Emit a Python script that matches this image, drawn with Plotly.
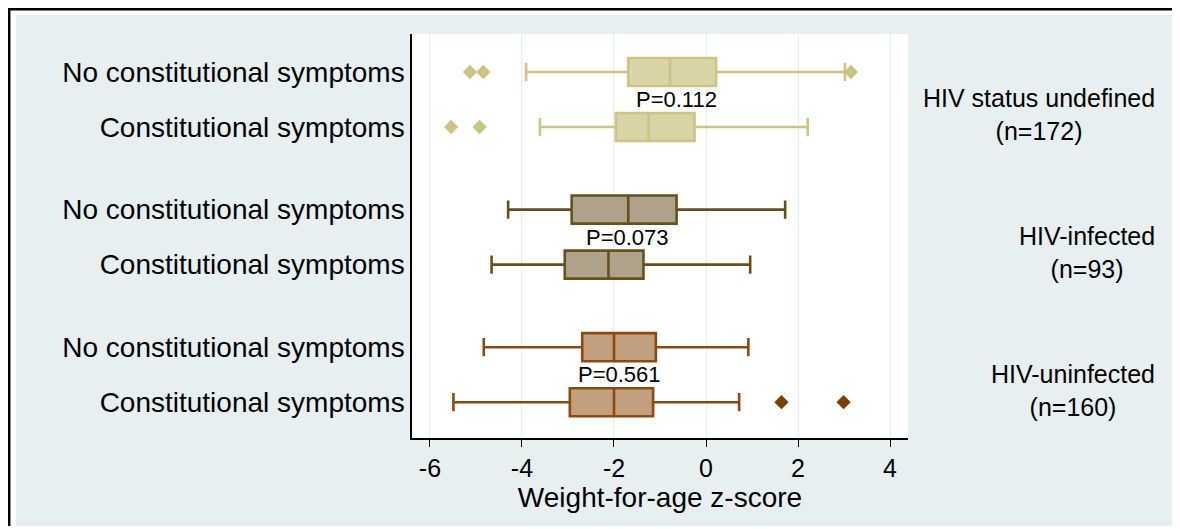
import plotly.graph_objects as go

# ---- data ----
groups = ["HIV status undefined", "HIV-infected", "HIV-uninfected"]
group_n = [172, 93, 160]
row_labels = ["No constitutional symptoms", "Constitutional symptoms"] * 3
row_group = [0, 0, 1, 1, 2, 2]

lowerfence = [-3.91, -3.61, -4.30, -4.66, -4.83, -5.49]
q1 = [-1.69, -1.96, -2.92, -3.07, -2.69, -2.96]
median = [-0.78, -1.25, -1.69, -2.12, -2.00, -2.00]
q3 = [0.22, -0.25, -0.64, -1.36, -1.09, -1.15]
upperfence = [3.02, 2.21, 1.72, 0.96, 0.92, 0.72]
outliers = [[-5.13, -4.84, 3.15], [-5.54, -4.92], [], [], [], [1.64, 2.99]]

p_values = ["P=0.112", "P=0.073", "P=0.561"]
p_x = [-0.64, -1.70, -1.87]

x_ticks = [-6, -4, -2, 0, 2, 4]

# ---- styling ----
fills = ["#d9d4a5", "#aea38a", "#c2a07f"]
lines = ["#cdc384", "#66511e", "#8a4a10"]
out_cols = ["#cdc384", "#66511e", "#7d3f00"]
FONT = "Arial, Liberation Sans, sans-serif"
row_pos = [1, 2, 3.5, 4.5, 6, 7]

fig = go.Figure()
for i in range(6):
    g = row_group[i]
    fig.add_trace(go.Box(
        y=[row_pos[i]], q1=[q1[i]], median=[median[i]], q3=[q3[i]],
        lowerfence=[lowerfence[i]], upperfence=[upperfence[i]],
        orientation="h", width=0.51, whiskerwidth=0.65,
        fillcolor=fills[g], line=dict(color=lines[g], width=2.6),
        boxpoints=False, showlegend=False, hoverinfo="skip"))
    if outliers[i]:
        fig.add_trace(go.Scatter(
            x=outliers[i], y=[row_pos[i]] * len(outliers[i]), mode="markers",
            marker=dict(symbol="diamond", size=11, color=out_cols[g], line=dict(width=0)),
            showlegend=False, hoverinfo="skip"))

# P-value labels between the two rows of each group
for k in range(3):
    ymid = (row_pos[2 * k] + row_pos[2 * k + 1]) / 2
    fig.add_annotation(x=p_x[k], y=ymid, xref="x", yref="y", text=p_values[k],
                       showarrow=False, font=dict(family=FONT, size=22, color="black"),
                       xanchor="center", yanchor="middle")

# group labels on the right
for k in range(3):
    yc = row_pos[2 * k + 1] - 0.22
    fig.add_annotation(x=1.502, y=yc, xref="paper", yref="y",
                       text=f"{groups[k]}<br>(n={group_n[k]})", showarrow=False,
                       align="center", xanchor="right", yanchor="middle",
                       font=dict(family=FONT, size=25, color="black"))

W, H = 1172, 518
L, R, T, B = 404, 272, 26, 88
pw, ph = W - L - R, H - T - B

def px(xp):
    return (xp - L) / pw

def py(yp):
    return (H - B - yp) / ph

bg_blue = "#e8eff1"
shapes = [
    # white outer margins
    dict(type="rect", xref="paper", yref="paper", x0=px(0), x1=px(W), y0=py(0), y1=py(7),
         fillcolor="white", line=dict(width=0), layer="below"),
    dict(type="rect", xref="paper", yref="paper", x0=px(0), x1=px(8), y0=py(0), y1=py(H),
         fillcolor="white", line=dict(width=0), layer="below"),
    # black frame lines
    dict(type="line", xref="paper", yref="paper", x0=px(0), x1=px(W), y0=py(1.2), y1=py(1.2),
         line=dict(color="black", width=2.5)),
    dict(type="line", xref="paper", yref="paper", x0=px(1.2), x1=px(1.2), y0=py(0), y1=py(H),
         line=dict(color="black", width=2.5)),
]

fig.update_layout(
    width=W, height=H,
    margin=dict(l=L, r=R, t=T, b=B, pad=0),
    paper_bgcolor=bg_blue, plot_bgcolor="white",
    font=dict(family=FONT, color="black"),
    shapes=shapes,
    xaxis=dict(range=[-6.39, 4.39], tickvals=x_ticks, ticktext=[str(v) for v in x_ticks],
               ticks="outside", ticklen=7, tickcolor="black", tickwidth=1,
               showline=True, linecolor="black", linewidth=1.5,
               showgrid=True, gridcolor="#e3ecf0", gridwidth=1, zeroline=False,
               tickfont=dict(size=25, family=FONT),
               title=dict(text="Weight-for-age z-score", font=dict(size=28, family=FONT), standoff=6)),
    yaxis=dict(range=[7.65, 0.31], tickvals=row_pos, ticktext=row_labels,
               ticks="outside", ticklen=0, tickcolor="rgba(0,0,0,0)",
               showline=True, linecolor="black", linewidth=1.5,
               showgrid=False, zeroline=False,
               tickfont=dict(size=28, family=FONT)),
)

fig.write_html("out.html")
